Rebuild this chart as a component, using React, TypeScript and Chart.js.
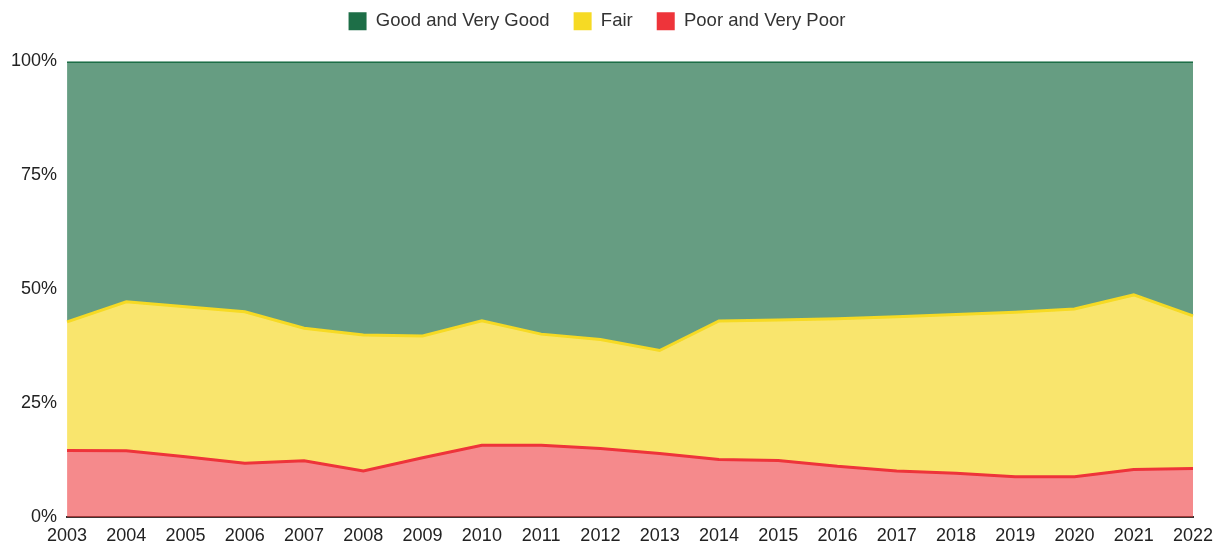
import React, { useEffect, useRef } from "react";
import { Chart, registerables } from "chart.js";

Chart.register(...registerables);

const years = ["2003","2004","2005","2006","2007","2008","2009","2010","2011","2012","2013","2014","2015","2016","2017","2018","2019","2020","2021","2022"];
const poor = [14.7,14.6,13.3,11.9,12.4,10.2,13.1,15.8,15.8,15.1,14.0,12.7,12.5,11.2,10.2,9.7,8.9,8.9,10.5,10.7];
const fair = [28.2,32.7,32.9,33.2,29.1,29.8,26.7,27.3,24.4,23.9,22.6,30.4,30.8,32.4,33.8,34.8,36.1,36.8,38.3,33.5];
const good = [57.1,52.7,53.8,54.9,58.5,60.0,60.2,56.9,59.8,61.0,63.4,56.9,56.7,56.4,56.0,55.5,55.0,54.3,51.2,55.8];
const yTicks = [0, 25, 50, 75, 100];

const legendGap = {
  id: "legendGap",
  beforeInit(chart: any) {
    const legend = chart.legend;
    if (!legend) return;
    const origFit = legend.fit;
    legend.fit = function () {
      origFit.call(this);
      this.height += 21;
    };
  },
};

export default function App() {
  const ref = useRef<HTMLCanvasElement>(null);
  useEffect(() => {
    document.body.style.margin = "0";
    const ctx = ref.current!;
    const family = "'Liberation Sans', Arial, sans-serif";
    const tickFont = { family, size: 18 };
    const legendFont = { family, size: 18.5 };
    const chart = new Chart(ctx, {
      type: "line",
      plugins: [legendGap],
      data: {
        labels: years,
        datasets: [
          {
            label: "Poor and Very Poor",
            data: poor,
            borderColor: "rgb(238,52,58)",
            backgroundColor: "rgba(238,60,64,0.6)",
            fill: "origin",
            borderWidth: 3,
            pointRadius: 0,
            tension: 0,
          },
          {
            label: "Fair",
            data: fair,
            borderColor: "rgb(246,218,36)",
            backgroundColor: "rgba(246,216,40,0.68)",
            fill: "-1",
            borderWidth: 3,
            pointRadius: 0,
            tension: 0,
          },
          {
            label: "Good and Very Good",
            data: good,
            borderColor: "rgb(29,110,71)",
            backgroundColor: "rgba(29,110,71,0.68)",
            fill: "-1",
            borderWidth: 3,
            pointRadius: 0,
            tension: 0,
          },
        ],
      },
      options: {
        animation: false,
        responsive: false,
        maintainAspectRatio: false,
        layout: { padding: { left: 1, right: 30, top: -12, bottom: -9 } },
        plugins: {
          legend: {
            position: "top",
            reverse: true,
            labels: {
              font: legendFont,
              color: "#333",
              boxWidth: 18,
              boxHeight: 18,
              padding: 24,
              generateLabels: (c: any) => {
                const items = Chart.defaults.plugins.legend.labels.generateLabels(c);
                return items.map((it: any) => ({
                  ...it,
                  fillStyle: it.strokeStyle,
                  lineWidth: 0,
                }));
              },
            },
          },
          tooltip: { enabled: false },
        },
        scales: {
          x: {
            offset: false,
            grid: { display: false, drawTicks: false },
            border: { display: true, color: "#333", width: 2 },
            ticks: { font: tickFont, color: "#222", padding: 8, maxRotation: 0, autoSkip: false },
          },
          y: {
            stacked: true,
            min: 0,
            max: 100,
            grid: { display: false, drawTicks: false },
            border: { display: false },
            afterBuildTicks: (axis: any) => {
              axis.ticks = yTicks.map((v) => ({ value: v }));
            },
            ticks: {
              font: tickFont,
              color: "#222",
              padding: 10,
              callback: (v: any) => v + "%",
            },
          },
        },
      },
    });
    return () => chart.destroy();
  }, []);
  return (
    <div style={{ width: 1223, height: 546 }}>
      <canvas ref={ref} width={1223} height={546} style={{ display: "block" }} />
    </div>
  );
}
